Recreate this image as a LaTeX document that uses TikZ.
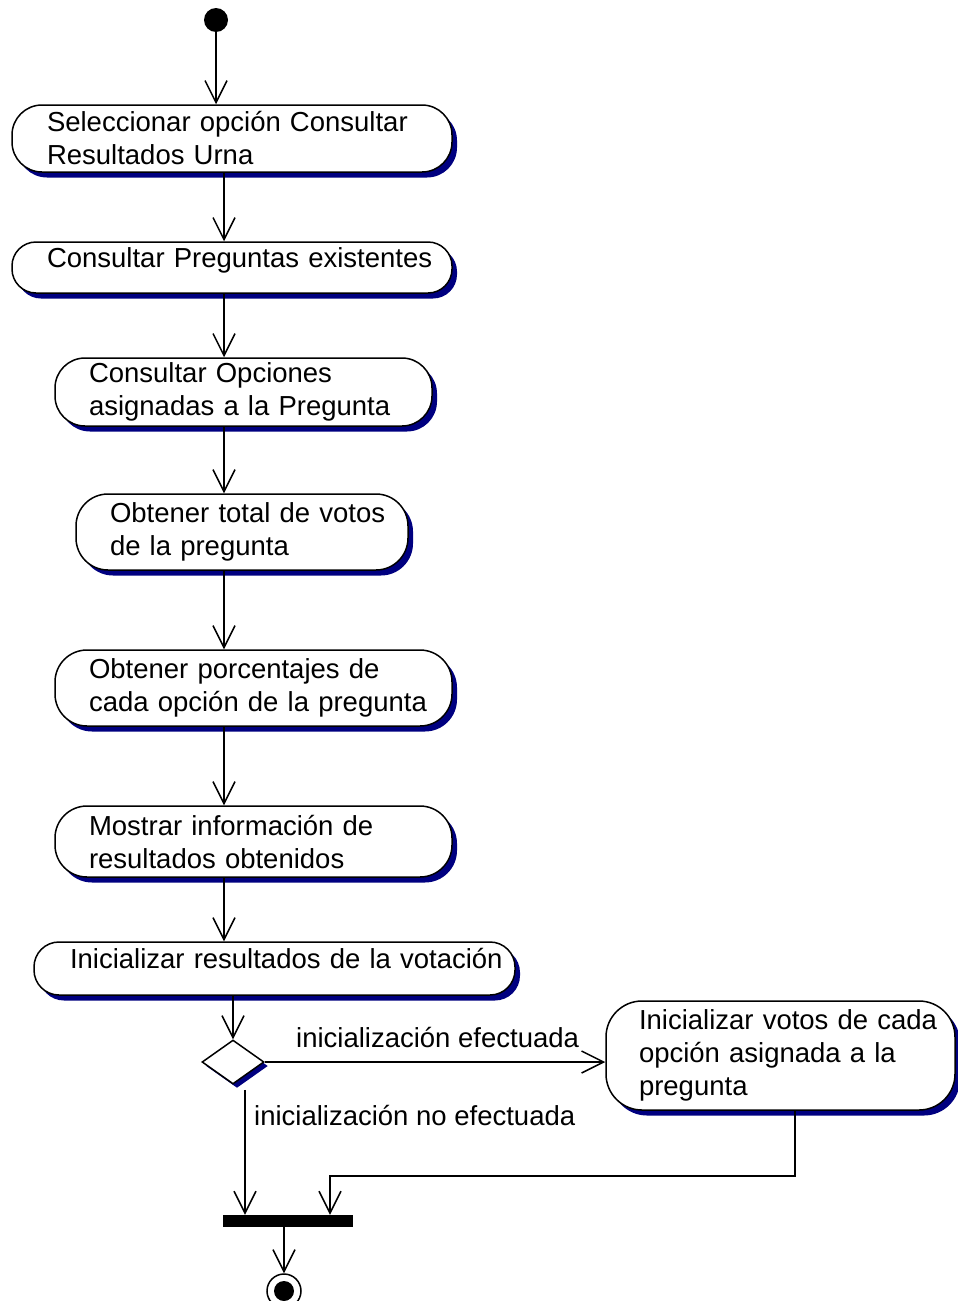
\documentclass[tikz,border=0pt]{standalone}
\usepackage{fontspec}
\setmainfont{Liberation Sans}
\usetikzlibrary{arrows.meta,shapes.geometric,shadows}
\definecolor{umlshadow}{RGB}{0,0,128}
\tikzset{
  act/.style={draw, fill=white, line width=1.5pt, rounded corners=#1, align=left,
    inner ysep=0pt, drop shadow={shadow xshift=5pt, shadow yshift=-5.5pt, fill=umlshadow, opacity=1}},
  act/.default=30pt,
  oneline/.style={text height=20pt, text depth=20pt},
  flow/.style={line width=1.5pt, -{Straight Barb[length=22pt,width=22pt]}},
  lbl/.style={anchor=base west, inner sep=0pt},
}
\begin{document}
\begin{tikzpicture}[x=1pt, y=-1pt, font=\fontsize{27.5pt}{33pt}\selectfont]
  \useasboundingbox (0,0) rectangle (958,1301);
  % inicio
  \node[circle, fill=black, minimum size=24pt, inner sep=0pt] (start) at (216,20) {};
  % actividades
  \node[act, minimum width=440pt, minimum height=67pt, text width=370pt, inner xsep=35pt] (b1) at (232,138.5)
    {Seleccionar opción Consultar\\Resultados Urna};
  \node[act=24pt, oneline, minimum width=440pt, minimum height=51pt, text width=370pt, inner xsep=35pt] (b2) at (232,267.5)
    {\mbox{Consultar Preguntas existentes}};
  \node[act, minimum width=377pt, minimum height=68pt, text width=309pt, inner xsep=34pt] (b3) at (243.5,392)
    {Consultar Opciones\\asignadas a la Pregunta};
  \node[act=32pt, minimum width=332pt, minimum height=76pt, text width=264pt, inner xsep=34pt] (b4) at (242,532)
    {\mbox{Obtener total de votos}\\de la pregunta};
  \node[act=32pt, minimum width=397pt, minimum height=76pt, text width=329pt, inner xsep=34pt] (b5) at (253.5,688)
    {Obtener porcentajes de\\\mbox{cada opción de la pregunta}};
  \node[act=32pt, minimum width=397pt, minimum height=71pt, text width=329pt, inner xsep=34pt] (b6) at (253.5,841.5)
    {Mostrar información de\\resultados obtenidos};
  \node[act=25pt, oneline, minimum width=481pt, minimum height=53pt, text width=409pt, inner xsep=36pt] (b7) at (274.5,968.5)
    {\mbox{Inicializar resultados de la votación}};
  \node[act=36pt, minimum width=349pt, minimum height=109pt, text width=283pt, inner xsep=33pt] (b8) at (780.5,1055.5)
    {\mbox{Inicializar votos de cada}\\opción asignada a la\\pregunta};
  % decision, barra y fin
  \node[diamond, draw, fill=white, line width=1.5pt, minimum width=62pt, minimum height=44pt, inner sep=0pt,
    drop shadow={shadow xshift=4pt, shadow yshift=-4pt, fill=umlshadow, opacity=1}] (dec) at (233,1062) {};
  \node[fill=black, minimum width=130pt, minimum height=12pt, inner sep=0pt] (bar) at (288,1221) {};
  \node[circle, draw, line width=1.5pt, minimum size=34pt, inner sep=0pt] (fin) at (284,1291) {};
  \node[circle, fill=black, minimum size=20pt, inner sep=0pt] (fincore) at (fin) {};
  \coordinate (axis) at (224,0);
  \coordinate (jn) at (795,1176);
  % flujos
  \draw[flow] (start) -- (start |- b1.north);
  \foreach \a/\b in {b1/b2, b2/b3, b3/b4, b4/b5, b5/b6, b6/b7}
    \draw[flow] (\a.south -| axis) -- (\b.north -| axis);
  \draw[flow] (b7.south -| dec) -- (dec.north);
  \draw[flow] (dec.east) -- (dec.east -| b8.west);
  \draw[flow] ([xshift=12pt,yshift=-5pt]dec.south) -- ([xshift=12pt]dec.south |- bar.north);
  \draw[flow] (b8.south -| jn) -- (jn) -| ([xshift=42pt]bar.north);
  \draw[flow] (bar.south -| fin) -- (fin.north);
  \node[lbl] (yes) at (296,1047) {inicialización efectuada};
  \node[lbl] (no) at (254,1125) {inicialización no efectuada};
\end{tikzpicture}
\end{document}
